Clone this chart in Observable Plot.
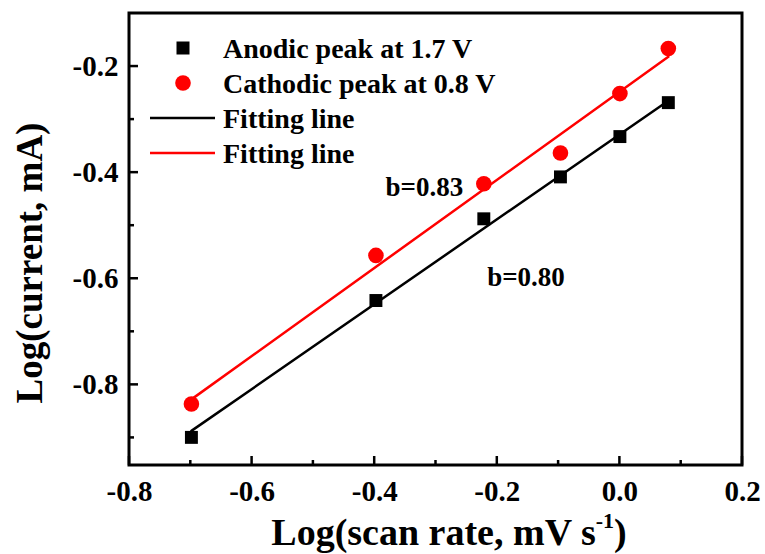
<!DOCTYPE html>
<html>
<head>
<meta charset="utf-8">
<script src="https://cdn.jsdelivr.net/npm/d3@7"></script>
<script src="https://cdn.jsdelivr.net/npm/@observablehq/plot@0.6"></script>
<style>
  body { margin: 0; background: #fff; }
  #chart { position: relative; width: 765px; height: 554px; }
  #chart svg { position: absolute; left: 0; top: 0; }
</style>
</head>
<body>
<div id="chart"></div>
<script>
// log10 of scan rate (mV/s): 0.2, 0.4, 0.6, 0.8, 1.0, 1.2
const scanRateLog = [-0.699, -0.398, -0.222, -0.097, 0, 0.079];
// log10 of peak current (mA)
const anodicLog = [-0.899, -0.641, -0.487, -0.408, -0.332, -0.268];
const cathodicLog = [-0.836, -0.556, -0.421, -0.363, -0.251, -0.166];
// fitted slopes b (anodic, cathodic)
const fitSlope = [0.80, 0.83];
const seriesNames = ["Anodic peak at 1.7 V", "Cathodic peak at 0.8 V"];
const fitNames = ["Fitting line", "Fitting line"];
// axis ticks
const xMajor = [-0.8, -0.6, -0.4, -0.2, 0.0, 0.2];
const xMinor = [-0.7, -0.5, -0.3, -0.1, 0.1];
const yMajor = [-0.8, -0.6, -0.4, -0.2];
const yMinor = [-0.9, -0.7, -0.5, -0.3];

const FONT = '"Liberation Serif", "Times New Roman", serif';
const RED = "#ff0000";
const W = 765, H = 554;
const M = {left: 129, right: 23, top: 13, bottom: 89};

// fitted line through the centroid with the reported slope
function fitLine(ys, b) {
  const mx = d3.mean(scanRateLog), my = d3.mean(ys);
  const xs = d3.extent(scanRateLog);
  return xs.map(x => ({x, y: my + b * (x - mx)}));
}
const anodicFit = fitLine(anodicLog, fitSlope[0]);
const cathodicFit = fitLine(cathodicLog, fitSlope[1]);

const fmt = d => d.toFixed(1);

const plot = Plot.plot({
  width: W, height: H,
  marginLeft: M.left, marginRight: M.right, marginTop: M.top, marginBottom: M.bottom,
  x: {domain: [-0.8, 0.2]},
  y: {domain: [-0.952, -0.1]},
  style: {fontFamily: FONT, fontWeight: "bold", fontSize: "29px", color: "#000", background: "#fff", overflow: "visible"},
  marks: [
    Plot.axisX({ticks: xMajor, tickSize: 0, tickPadding: 15, tickFormat: fmt, label: null, fontSize: 29}),
    Plot.axisY({ticks: yMajor, tickSize: 0, tickPadding: 11, tickFormat: fmt, label: null, fontSize: 29}),
    Plot.line(anodicFit, {x: "x", y: "y", stroke: "#000", strokeWidth: 2.5}),
    Plot.line(cathodicFit, {x: "x", y: "y", stroke: RED, strokeWidth: 2.5}),
    Plot.dot(scanRateLog, {x: scanRateLog, y: anodicLog, symbol: "square", r: 7.3, fill: "#000", stroke: "none"}),
    Plot.dot(scanRateLog, {x: scanRateLog, y: cathodicLog, symbol: "circle", r: 7.8, fill: RED, stroke: "none"}),
    Plot.text([`b=${fitSlope[1].toFixed(2)}`], {x: -0.3824, y: -0.4273, textAnchor: "start", fontSize: 27, fontWeight: "bold", fontFamily: FONT}),
    Plot.text([`b=${fitSlope[0].toFixed(2)}`], {x: -0.2165, y: -0.5968, textAnchor: "start", fontSize: 27, fontWeight: "bold", fontFamily: FONT})
  ]
});
document.getElementById("chart").appendChild(plot);

// overlay: frame, inward ticks, legend and axis titles
const sx = plot.scale("x"), sy = plot.scale("y");
const x0 = sx.range[0], x1 = sx.range[1];
const yb = sy.range[0], yt = sy.range[1];

const ov = d3.select("#chart").append("svg")
  .attr("width", W).attr("height", H)
  .style("font-family", FONT).style("font-weight", "bold");

const ticks = ov.append("g").attr("stroke", "#000").attr("stroke-width", 2.5);
xMajor.forEach(v => ticks.append("line").attr("x1", sx.apply(v)).attr("x2", sx.apply(v)).attr("y1", yb).attr("y2", yb - 9));
xMinor.forEach(v => ticks.append("line").attr("x1", sx.apply(v)).attr("x2", sx.apply(v)).attr("y1", yb).attr("y2", yb - 5));
yMajor.forEach(v => ticks.append("line").attr("y1", sy.apply(v)).attr("y2", sy.apply(v)).attr("x1", x0).attr("x2", x0 + 9));
yMinor.forEach(v => ticks.append("line").attr("y1", sy.apply(v)).attr("y2", sy.apply(v)).attr("x1", x0).attr("x2", x0 + 5));

ov.append("rect").attr("x", x0).attr("y", yt).attr("width", x1 - x0).attr("height", yb - yt)
  .attr("fill", "none").attr("stroke", "#000").attr("stroke-width", 3);

const legendRows = [
  {kind: "square", color: "#000", text: seriesNames[0]},
  {kind: "circle", color: RED, text: seriesNames[1]},
  {kind: "line", color: "#000", text: fitNames[0]},
  {kind: "line", color: RED, text: fitNames[1]}
];
const lg = ov.append("g").attr("transform", "translate(0,48)");
legendRows.forEach((r, i) => {
  const g = lg.append("g").attr("transform", `translate(0,${i * 35})`);
  if (r.kind === "square") g.append("rect").attr("x", 183 - 6.5).attr("y", -6.5).attr("width", 13).attr("height", 13).attr("fill", r.color);
  if (r.kind === "circle") g.append("circle").attr("cx", 183).attr("cy", 0).attr("r", 7.8).attr("fill", r.color);
  if (r.kind === "line") g.append("line").attr("x1", 150).attr("x2", 215).attr("y1", 0).attr("y2", 0).attr("stroke", r.color).attr("stroke-width", 2.5);
  g.append("text").attr("x", 223).attr("y", 0).attr("dy", "0.35em").attr("font-size", 28).text(r.text);
});

// x title with superscript
const xt = ov.append("text").attr("x", 449).attr("y", 545).attr("text-anchor", "middle").attr("font-size", 38);
xt.append("tspan").text("Log(scan rate, mV s");
xt.append("tspan").attr("font-size", 22).attr("dy", -17).text("-1");
xt.append("tspan").attr("dy", 17).text(")");

// y title
ov.append("text").attr("transform", "translate(42,263) rotate(-90)")
  .attr("text-anchor", "middle").attr("font-size", 37).text("Log(current, mA)");
</script>
</body>
</html>
